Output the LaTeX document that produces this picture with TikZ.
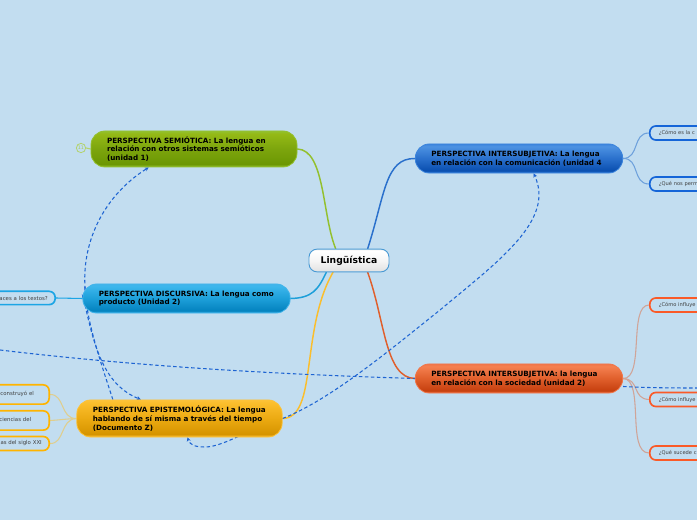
\documentclass[tikz,border=0pt]{standalone}
\usepackage{fontspec}
\setmainfont{DejaVu Sans}
\usetikzlibrary{arrows.meta,backgrounds}
\definecolor{bgc}{HTML}{C2DDF0}
\definecolor{linkc}{HTML}{1E64D2}
\definecolor{cenb}{HTML}{4A9AD4}
\definecolor{lfcy}{HTML}{1CA5E5}
\definecolor{lfbl}{HTML}{1565D8}
\definecolor{lfre}{HTML}{FA5A28}
\definecolor{lfye}{HTML}{FFB400}
\newcommand{\mkshade}[5]{%
  \definecolor{#1T}{HTML}{#2}\definecolor{#1M}{HTML}{#3}\definecolor{#1B}{HTML}{#4}\definecolor{#1R}{HTML}{#5}%
  \pgfdeclareverticalshading{#1S}{100bp}{color(0bp)=(#1B); color(25bp)=(#1R); color(29bp)=(#1B); color(50bp)=(#1M); color(71bp)=(#1T); color(75bp)=(#1R); color(100bp)=(#1R)}%
}
\newcommand{\txtline}[1]{\makebox[0pt][l]{#1}}
\mkshade{gr}{94B916}{7CA50D}{6C9703}{93C02E}
\mkshade{cy}{3CB6EC}{1D9FD9}{0483BF}{42B4EA}
\mkshade{ye}{FBBE2C}{EBAA12}{D69400}{FCC238}
\mkshade{bl}{4D92E2}{2A70CC}{0A4FB0}{3C84DC}
\mkshade{re}{F58050}{E05F2C}{C6400F}{F0764A}
\mkshade{wh}{FFFFFF}{F6F6F6}{E4E4E4}{F4F4F4}
\tikzset{
  mainbox/.style 2 args={shading=#1S, draw=#1R, line width=0.6pt, rounded corners=10.5pt,
    inner xsep=12pt, inner ysep=0pt, text width=#2, align=left, text=black,
    font=\fontsize{5.4}{6.6}\selectfont\bfseries},
  leafbox/.style={draw=#1, line width=1.25pt, fill=bgc, rounded corners=4.5pt, inner ysep=0pt,
    inner xsep=5.5pt, text=black!75, font=\fontsize{4.05}{4.8}\selectfont, align=left},
  leafL/.style={leafbox=#1, text width=110pt, anchor=east, align=right},
  leafR/.style={leafbox=#1, text width=110pt, anchor=west, inner xsep=6.8pt, font=\fontsize{3.85}{4.8}\selectfont},
  trunk/.style={line width=1.1pt, line cap=round},
  twig/.style={line width=0.8pt, line cap=round},
  crosslink/.style={draw=linkc, line width=0.8pt, dash pattern=on 2.6pt off 1.9pt},
  tipped/.style={-{Stealth[length=3pt,width=3pt]}},
  x=0.75pt, y=-0.75pt
}
\begin{document}
\begin{tikzpicture}
\path[use as bounding box] (0,0) rectangle (697,520);

% main topics
\node[mainbox={gr}{130.5pt}, minimum height=27pt] (semio) at (194,149) {\txtline{PERSPECTIVA SEMIÓTICA: La lengua en}\\\txtline{relación con otros sistemas semióticos}\\\txtline{(unidad 1)}};
\node[mainbox={cy}{131.5pt}, minimum height=21.8pt] (disc) at (186.5,298.5) {\txtline{PERSPECTIVA DISCURSIVA: La lengua como}\\\txtline{producto (Unidad 2)}};
\node[mainbox={ye}{130pt}, minimum height=27.8pt] (epis) at (179.5,418.5) {\txtline{PERSPECTIVA EPISTEMOLÓGICA: La lengua}\\\txtline{hablando de sí misma a través del tiempo}\\\txtline{(Documento Z)}};
\node[mainbox={bl}{131.5pt}, minimum height=21.8pt] (com) at (519,158.5) {\txtline{PERSPECTIVA INTERSUBJETIVA: La lengua}\\\txtline{en relación con la comunicación (unidad 4}};
\node[mainbox={re}{131.5pt}, minimum height=21.8pt] (soc) at (519,378.5) {\txtline{PERSPECTIVA INTERSUBJETIVA: la lengua}\\\txtline{en relación con la sociedad (unidad 2)}};
\node[shading=whS, draw=cenb, line width=0.7pt, rounded corners=6pt,
  minimum width=60pt, minimum height=17pt, inner sep=0pt, text=black,
  font=\fontsize{6.9}{8}\selectfont\bfseries] (cen) at (349,260.5) {Lingüística};

% leaves
\node[leafL=lfcy, minimum height=10pt] (l1) at (56,298) {aces a los textos?};
\node[leafL=lfye, minimum height=14.5pt] (l2) at (50,394.5) {\raisebox{2.2pt}{construyó el}\hspace*{6pt}};
\node[leafL=lfye, minimum height=14.5pt] (l3) at (50,420.5) {\raisebox{2.2pt}{ciencias del}\hspace*{8pt}};
\node[leafL=lfye, minimum height=10.5pt] (l4) at (50,443.5) {as del siglo XXI};
\node[leafR=lfbl, minimum height=10.5pt] (r1) at (649,133) {¿Cómo es la c};
\node[leafR=lfbl, minimum height=10.5pt] (r2) at (649,184) {¿Qué nos perm};
\node[leafR=lfre, minimum height=10.5pt] (r3) at (649,305) {¿Cómo influye};
\node[leafR=lfre, minimum height=10.5pt] (r4) at (649,399.5) {¿Cómo influye};
\node[leafR=lfre, minimum height=10.5pt] (r5) at (649,453) {¿Qué sucede c};

% icon
\node[circle, draw=grR!70!white, line width=0.6pt, minimum size=7pt, inner sep=0pt, text=grR!80!white, font=\fontsize{3.6}{4}\selectfont] (ico) at (81,148) {11};
\coordinate (jn) at (85,287);

\begin{pgfonlayer}{background}
\fill[bgc] (0,0) rectangle (697,520);
% trunks
\draw[trunk, grR] (semio.east) .. controls (325,150) and (322,215) .. ([xshift=-10pt]cen.north);
\draw[trunk, cyM] (disc.east) .. controls (312,298) and (318,290) .. ([xshift=-17pt]cen.south);
\draw[trunk, yeT] (epis.east) .. controls (318,418) and (300,330) .. ([xshift=-12pt]cen.south);
\draw[trunk, blM] (com.west) .. controls (385,158) and (385,195) .. ([xshift=14pt]cen.north);
\draw[trunk, reM] (soc.west) .. controls (385,378) and (385,320) .. ([xshift=14pt]cen.south);
% twigs
\draw[twig, blM!55!bgc] (com.east) .. controls (640,158) and (632,133) .. (r1.west);
\draw[twig, blM!55!bgc] (com.east) .. controls (640,158) and (632,184) .. (r2.west);
\draw[twig, reM!45!bgc] (soc.east) .. controls (645,379) and (628,305) .. (r3.west);
\draw[twig, reM!45!bgc] (soc.east) .. controls (640,379) and (632,399) .. (r4.west);
\draw[twig, reM!45!bgc] (soc.east) .. controls (645,379) and (626,453) .. (r5.west);
\draw[twig, lfcy] (disc.west) -- (l1.east);
\draw[twig, yeT!50!bgc] (epis.west) .. controls (60,419) and (65,394) .. (l2.east);
\draw[twig, yeT!50!bgc] (epis.west) .. controls (65,419) and (60,420) .. (l3.east);
\draw[twig, yeT!50!bgc] (epis.west) .. controls (60,419) and (65,444) .. (l4.east);
\draw[twig, grR!70!white] (semio.west) -- (ico.east);
% cross links
\draw[crosslink, tipped] ([xshift=-50pt]epis.north) .. controls (100,360) and (86,320) .. (jn) .. controls (82,240) and (105,195) .. ([xshift=-34pt]semio.south);
\draw[crosslink, tipped] (jn) .. controls (85,291) and (84,294) .. (disc.west);
\draw[crosslink, tipped] ([yshift=-5pt, xshift=2pt]disc.west) .. controls (95,350) and (105,385) .. ([xshift=-29pt]epis.north);
\draw[crosslink] (0,350) .. controls (150,368) and (300,375) .. (soc.west);
\draw[crosslink] ([yshift=-6pt]soc.east) .. controls (650,388) and (680,388) .. (697,388);
\draw[crosslink, tipped] (epis.east) .. controls (255,425) and (225,447) .. (205,447) .. controls (195,447) and (190,445) .. ([xshift=6pt]epis.south);
\draw[crosslink, tipped] (epis.east) .. controls (330,400) and (390,350) .. (440,310) .. controls (500,260) and (555,220) .. ([xshift=11pt]com.south);
\end{pgfonlayer}
\end{tikzpicture}
\end{document}
